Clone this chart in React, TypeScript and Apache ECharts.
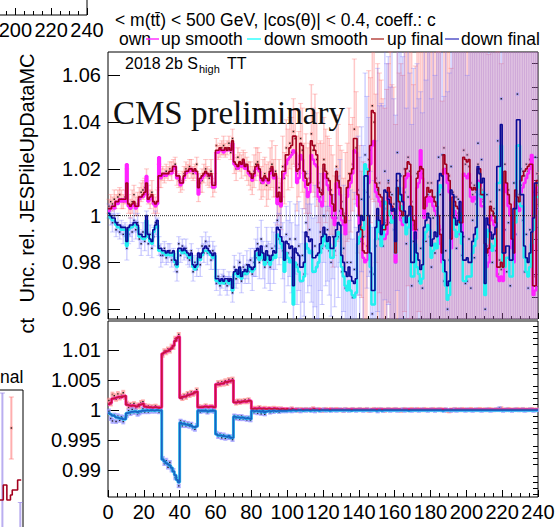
import React, { useEffect, useRef } from "react";
import * as echarts from "echarts";

// ---------- tick positions ----------
const X_LABEL_STEP = 20;
const TOP_MAJOR = [0.96, 0.98, 1, 1.02, 1.04, 1.06];
const TOP_MINOR = [0.965, 0.97, 0.975, 0.985, 0.99, 0.995, 1.005, 1.01, 1.015, 1.025, 1.03, 1.035, 1.045, 1.05, 1.055, 1.065];
const BOT_MAJOR = [0.99, 0.995, 1, 1.005, 1.01];
const BOT_MINOR = [0.986, 0.987, 0.988, 0.989, 0.991, 0.992, 0.993, 0.994, 0.996, 0.997, 0.998, 0.999, 1.001, 1.002, 1.003, 1.004, 1.006, 1.007, 1.008, 1.009, 1.011, 1.012, 1.013, 1.014];

// ---------- top pad: deviations from 1 in per mille, one entry per bin (0..239) ----------
const upFinal = [
  3,3,4,4,6,6,7,7,7,7, 14,5,4,5,6,4,4,8,8,9, 10,14,7,8,9,6,5,6,17,17,
  18,18,18,18,19,19,21,21,17,17, 14,14,17,19,19,20,20,19,20,19, 12,16,17,18,19,18,17,18,13,13,
  28,28,29,28,28,29,28,29,28,32, 23,22,21,23,22,24,21,22,19,18, 16,18,21,22,20,16,15,17,16,15,
  19,21,17,18,8,10,6,19,19,26, 26,29,30,34,34,19,20,31,30,19, 16,13,14,32,30,28,26,12,10,9,
  22,19,16,15,9,5,2,19,15,12, 3,0,-3,12,15,18,20,33,33,9, 0,-6,-15,-16,-16,19,30,45,44,14,
  12,9,8,-6,-6,-4,12,8,4,2, -16,12,6,2,0,17,20,23,22,4, -2,-6,16,19,21,20,3,8,12,10,
  11,8,6,4,0,-8,-16,26,22,18, 15,-10,8,6,4,3,-3,-3,25,24, 23,24,12,11,12,11,20,20,9,9,
  -12,-16,-14,4,2,0,-3,-22,-22,-20, -22,19,14,9,5,-10,-16,11,8,6, 15,17,19,20,21,22,22,-30,-30,15,
];
const upSmooth = [
  2,3,4,3,6,5,7,6,7,6, 22,4,3,4,5,3,4,7,8,8, 9,17,6,7,8,5,4,5,25,16,
  17,18,17,18,18,18,20,21,16,17, 13,14,16,18,19,19,20,19,19,18, 9,15,16,17,18,18,17,17,12,12,
  27,27,28,28,27,28,28,28,28,31, 22,21,20,22,21,23,20,21,18,17, 15,17,20,21,19,15,14,16,15,14,
  18,20,16,17,5,8,4,16,18,22, 24,25,26,28,27,14,16,26,24,15, 12,8,10,26,24,22,21,8,6,4,
  18,16,13,11,4,-1,-4,14,12,9, -2,-4,-8,8,12,14,18,28,27,4, -4,-10,-18,-20,-19,14,22,30,32,10,
  8,6,4,-10,-10,-8,8,5,0,-2, -20,8,3,-2,-4,12,16,18,17,0, -6,-10,12,14,28,16,-1,4,8,6,
  8,4,2,0,-4,-12,-20,20,18,14, 10,-14,4,2,0,-1,-8,-8,18,17, 16,18,8,6,8,7,15,14,4,4,
  -18,-22,-20,0,-2,-4,-8,-26,-28,-26, -28,14,10,4,0,-14,-20,6,4,2, 10,12,14,16,18,20,26,-34,-32,12,
];
const downFinal = [
  1,0,-1,-1,-3,-4,-4,-5,-5,-5, -11,-5,-4,-4,-3,-3,-4,-8,-8,-9, -9,0,-8,-10,-11,-6,-4,-2,-14,-14,
  -15,-15,-16,-15,-16,-16,-15,-19,-21,-14, -14,-15,-14,-15,-16,-17,-16,-21,-22,-21, -16,-18,-16,-14,-13,-14,-15,-16,-17,-16,
  -27,-27,-28,-27,-28,-27,-27,-28,-27,-31, -24,-23,-25,-22,-26,-24,-23,-24,-21,-22, -23,-22,-15,-14,-17,-13,-16,-19,-15,-17,
  -19,-17,-15,-16,-5,-6,-9,-11,-19,-11, -12,-14,-13,-30,-14,-16,-17,-22,-22,-20, -7,-9,-11,-10,-18,-18,-17,-16,-12,-9,
  -5,-8,-11,-9,-14,-14,-9,-6,-3,-4, -17,-20,-24,-26,-22,-26,-28,-29,-27,-7, -4,0,-2,17,17,0,-16,-32,-32,-5,
  3,-2,-8,-4,11,10,7,5,2,3, -11,18,18,9,6,2,-3,0,4,-20, -20,-7,-16,-19,-23,-21,-5,-2,1,-1,
  -13,-10,-7,-9,15,18,17,-19,-24,-30, -28,11,9,-1,-4,-2,6,-7,-19,-19, -18,-20,-20,-11,-8,-5,21,18,14,16,
  -29,-1,-4,-7,-10,-8,-5,21,21,39, -16,-16,-13,-13,-19,-19,3,3,41,41, 9,9,-13,-18,-20,-16,-7,-1,14,14,
];
const downSmooth = [
  0,-1,-2,-2,-4,-5,-5,-6,-6,-6, -13,-6,-5,-5,-4,-4,-5,-9,-9,-10, -10,-2,-9,-11,-12,-7,-5,-4,-15,-15,
  -16,-16,-17,-16,-17,-17,-16,-20,-22,-15, -15,-16,-15,-16,-17,-18,-17,-22,-23,-22, -18,-19,-17,-15,-15,-15,-16,-17,-18,-17,
  -28,-28,-29,-28,-29,-28,-28,-29,-28,-32, -25,-24,-26,-23,-27,-25,-24,-25,-22,-23, -24,-23,-17,-16,-19,-15,-18,-21,-17,-19,
  -21,-19,-17,-18,-8,-9,-12,-14,-24,-16, -18,-20,-19,-38,-20,-22,-24,-28,-28,-26, -12,-14,-16,-15,-24,-24,-22,-20,-16,-13,
  -8,-11,-14,-12,-18,-18,-13,-10,-7,-8, -22,-26,-30,-32,-28,-32,-34,-35,-33,-12, -9,-5,-6,22,20,-4,-22,-38,-38,-10,
  -2,-7,-13,-9,6,5,2,0,-3,-2, -16,12,12,4,1,-3,-8,-5,-1,-26, -26,-12,-22,-25,-29,-27,-10,-7,-4,-6,
  -18,-15,-12,-14,10,13,12,-24,-30,-36, -34,6,4,-6,-9,-7,1,-12,-28,-28, -26,-26,-26,-16,-13,-10,14,12,8,10,
  -34,-6,-9,-12,-15,-13,-10,14,14,30, -22,-22,-18,-18,-26,-26,-3,-3,30,30, 4,4,-18,-24,-26,-22,-12,-6,8,8,
];
const upRaw = [
  4,6,5,7,6,8,9,7,6,8, 14,5,3,6,9,4,5,8,10,11, 12,15,9,7,10,5,4,6,17,16,
  18,17,19,18,20,19,21,22,16,15, 13,15,18,20,19,21,20,18,19,22, 10,14,15,18,20,17,16,19,12,14,
  30,27,28,29,30,28,29,31,27,33, 22,20,25,23,21,24,22,20,18,17, 15,19,22,23,19,14,16,18,13,15,
  20,22,16,19,6,12,4,21,16,29, 24,31,27,36,33,18,22,33,28,17, 18,10,16,35,28,30,24,14,8,11,
  24,17,18,12,11,2,0,21,14,10, 6,-3,1,10,18,16,22,37,29,11, -2,-8,-12,-19,-13,24,28,47,40,16,
  10,14,6,-8,-3,-2,14,10,2,5, -19,15,8,-1,3,20,18,25,19,6, -4,-8,18,17,24,18,5,6,14,8,
  14,6,8,2,-3,-6,-19,29,20,16, 17,-13,10,4,8,1,-5,-1,28,22, 26,21,14,9,13,10,22,18,11,7,
  -15,-13,-17,6,0,3,-5,-25,-19,-23, -18,22,12,11,3,-13,-13,14,6,9, 13,19,17,22,19,24,20,-33,-26,18,
];
const upErr = [
  3,3,3,4,3,3,3,4,3,3, 6,4,4,5,4,4,5,4,4,4, 4,5,4,4,5,4,4,5,5,4,
  3,3,3,3,3,4,3,3,3,3, 3,4,3,3,3,3,4,3,3,3, 4,4,5,4,4,4,4,5,4,4,
  3,3,3,3,4,3,3,3,3,4, 4,5,4,4,5,4,5,5,5,6, 6,7,7,6,8,7,8,7,9,8,
  9,10,8,11,10,12,10,13,11,12, 13,11,15,14,12,16,14,15,18,14, 17,19,15,21,18,22,20,17,24,20,
  18,20,16,21,19,24,17,22,25,20, 22,19,26,21,28,23,20,30,24,27, 32,27,35,30,33,38,31,40,34,36,
  55,47,52,58,49,56,51,60,54,50, 58,62,53,66,57,61,68,55,63,70, 60,72,65,58,74,63,69,77,61,71,
  75,66,80,70,73,84,68,78,86,72, 82,76,90,74,85,79,92,81,88,77, 95,83,89,98,80,93,87,100,84,96,
  90,104,86,98,108,92,101,95,110,88, 103,97,112,94,106,115,99,108,102,118, 96,110,105,120,100,113,117,104,122,109,
];
const downRaw = [
  2,-1,-3,0,-6,-3,-7,-5,-8,-6, -14,-8,-5,-7,-2,-6,-3,-10,-12,-7, -11,-2,-12,-8,-14,-9,-3,-5,-13,-17,
  -17,-14,-18,-16,-15,-19,-17,-21,-24,-12, -17,-13,-16,-14,-18,-19,-15,-24,-20,-23, -18,-21,-13,-16,-11,-16,-13,-19,-15,-18,
  -29,-26,-30,-28,-26,-29,-30,-27,-29,-33, -22,-27,-24,-20,-28,-22,-25,-21,-24,-19, -25,-20,-18,-12,-20,-10,-19,-22,-13,-20,
  -22,-14,-18,-13,-2,-10,-5,-15,-23,-8, -16,-10,-18,-36,-10,-21,-13,-28,-17,-25, -3,-14,-6,-16,-24,-13,-22,-20,-7,-14,
  0,-13,-6,-15,-20,-9,-15,-1,-9,2, -24,-14,-31,-20,-28,-20,-35,-23,-33,0, -11,7,-9,26,10,8,-24,-42,-25,-13,
  11,-10,-1,-13,19,3,15,-3,9,-6, -20,27,10,17,-2,10,-12,8,-5,-30, -11,-16,-6,-28,-14,-31,4,-11,9,-9,
  -22,-1,-16,0,25,9,26,-28,-15,-40, -19,21,0,8,-14,7,-4,-17,-9,-29, -28,-10,-31,-2,-18,5,31,9,24,6,
  -40,9,-14,3,-20,1,-15,32,11,50, -27,-6,-24,-3,-30,-9,14,-8,52,30, 20,-2,-24,-8,-31,-6,-18,10,25,3,
];
const downErr = [
  3,3,4,3,3,4,3,3,4,3, 5,4,4,4,5,4,4,4,5,4, 4,4,5,4,4,4,5,4,4,5,
  3,3,3,4,3,3,3,3,4,3, 3,3,3,4,3,3,3,4,3,3, 4,5,4,4,4,5,4,4,4,5,
  3,3,4,3,3,3,4,3,3,4, 5,4,5,4,5,5,4,6,5,5, 7,6,8,7,7,8,8,9,8,9,
  10,9,11,10,12,11,13,12,14,12, 14,16,15,18,15,17,19,16,20,18, 22,19,24,21,23,26,22,27,25,24,
  20,17,22,19,23,18,24,21,26,22, 24,27,23,29,26,31,25,33,28,34, 36,31,39,35,41,34,43,37,40,45,
  52,57,49,60,55,62,53,58,65,56, 63,59,67,61,70,64,58,72,66,69, 74,62,71,78,67,75,80,69,77,83,
  72,85,76,81,88,74,90,79,86,93, 80,95,84,89,98,86,102,91,96,105, 88,100,107,94,103,110,97,106,112,99,
  115,104,108,118,101,112,120,106,116,124, 109,119,113,126,111,122,128,115,124,130, 118,127,121,132,116,125,134,120,129,136,
];

// ---------- bottom pad: deviations from 1 in per mille ----------
const upEff = [
  1.0,1.2,1.9,2.0,2.1,2.2,2.2,2.1,2.3,2.4, 0.9,0.8,0.7,0.8,0.7,0.6,0.7,0.9,1.0,1.1,
  0.6,0.5,0.5,0.5,0.4,0.5,0.5,0.4,0.4,0.5, 9.4,9.6,9.8,9.9,10.1,10.3,10.7,11.5,12.0,12.2,
  2.0,2.2,2.3,2.3,2.5,2.6,2.7,2.8,3.0,3.1, 0.5,0.5,0.5,0.6,0.6,0.5,0.6,0.6,0.5,0.5,
  4.3,4.3,4.4,4.4,4.5,4.7,4.6,4.8,4.9,5.0, 1.3,1.3,1.4,1.3,1.4,1.5,1.4,1.5,1.6,1.5,
  0.2,0.3,0.2,0.3,0.3,0.2,0.3,0.2,0.2,0.3, 0.2,0.2,0.3,0.2,0.2,0.1,0.2,0.2,0.1,0.2,
  0.1,0.1,0.2,0.1,0.1,0.1,0.0,0.1,0.1,0.1, 0.1,0.1,0.1,0.1,0.2,0.1,0.1,0.1,0.1,0.0,
  0.1,0.1,0.1,0.1,0.1,0.1,0.1,0.1,0.1,0.1, 0.1,0.0,0.1,0.1,0.1,0.1,0.1,0.1,0.1,0.1,
  0.1,0.1,0.1,0.1,0.1,0.0,0.1,0.1,0.1,0.1, 0.1,0.1,0.1,0.1,0.1,0.1,0.1,0.1,0.1,0.1,
  0.1,0.1,0.1,0.0,0.1,0.1,0.1,0.1,0.1,0.1, 0.1,0.1,0.1,0.1,0.1,0.1,0.1,0.1,0.1,0.1,
  0.1,0.1,0.1,0.1,0.1,0.1,0.1,0.1,0.1,0.0, 0.1,0.1,0.0,0.1,0.1,0.1,0.1,0.1,0.1,0.1,
  0.1,0.1,0.1,0.1,0.1,0.1,0.1,0.1,0.1,0.1, 0.1,0.1,0.1,0.1,0.1,0.1,0.1,0.1,0.1,0.1,
  0.1,0.1,0.1,0.1,0.1,0.1,0.1,0.1,0.1,0.1, 0.1,0.1,0.1,0.1,0.1,0.1,0.1,0.1,0.1,0.1,
];
const downEff = [
  -0.5,-0.7,-0.9,-1.0,-1.2,-1.3,-1.4,-1.3,-1.5,-1.5, -0.5,-0.4,-0.3,-0.3,-0.2,-0.3,-0.4,-0.2,-0.1,-0.1,
  -0.1,0.0,-0.1,0.0,0.0,-0.1,0.0,0.0,-0.1,0.0, -8.2,-8.5,-8.8,-9.0,-9.2,-9.6,-10.2,-10.8,-11.6,-12.0,
  -2.1,-2.3,-2.2,-2.4,-2.5,-2.4,-2.6,-2.8,-2.9,-2.7, -0.1,-0.1,-0.1,-0.1,-0.1,-0.2,-0.1,-0.1,-0.1,-0.1,
  -4.0,-4.2,-4.2,-4.3,-4.3,-4.4,-4.5,-4.3,-4.6,-4.6, -1.1,-1.2,-1.2,-1.3,-1.2,-1.3,-1.4,-1.3,-1.4,-1.5,
  -0.1,-0.2,-0.1,-0.2,-0.1,-0.3,-0.1,-0.4,-0.2,-0.1, -0.2,-0.1,-0.1,-0.2,-0.1,-0.1,-0.1,-0.1,-0.1,-0.1,
  0.0,-0.1,0.0,0.0,-0.1,0.0,0.0,0.0,-0.1,0.0, 0.0,0.0,-0.1,0.0,0.0,0.0,0.0,-0.1,0.0,0.0,
  0.0,0.0,0.0,-0.1,0.0,0.0,0.0,0.0,0.0,0.0, 0.0,0.0,0.0,0.0,0.0,-0.1,0.0,0.0,0.0,0.0,
  0.0,0.0,0.0,0.0,0.0,0.0,0.0,0.0,0.0,-0.1, 0.0,0.0,-0.1,0.0,0.0,0.0,0.0,0.0,0.0,0.0,
  0.0,0.0,0.0,0.0,0.0,0.0,0.0,-0.1,0.0,0.0, 0.0,0.0,0.0,0.0,0.0,0.0,0.0,0.0,0.0,0.0,
  0.0,0.0,0.0,0.0,0.0,0.0,-0.1,0.0,0.0,0.0, 0.0,0.0,0.0,0.0,0.0,0.0,0.0,0.0,0.0,0.0,
  0.0,0.0,0.0,0.0,0.0,0.0,0.0,0.0,0.0,0.0, 0.0,0.0,0.0,0.0,0.0,0.0,0.0,0.0,0.0,0.0,
  0.0,0.0,0.0,0.0,0.0,0.0,0.0,0.0,0.0,0.0, 0.0,0.0,0.0,0.0,0.0,0.0,0.0,0.0,0.0,0.0,
];
const upEffRaw = [
  1.6,1.0,2.6,2.4,1.8,2.7,2.0,2.5,2.9,2.1, 1.2,0.5,1.0,0.6,1.1,0.4,0.9,0.6,1.3,1.4,
  0.8,0.3,0.7,0.4,0.6,0.3,0.7,0.2,0.5,0.3, 9.1,9.9,9.6,10.2,9.8,10.6,10.4,11.9,11.7,12.6,
  2.3,1.9,2.5,2.1,2.8,2.4,3.0,2.6,2.8,3.4, 0.7,0.4,0.6,0.4,0.8,0.6,0.4,0.7,0.6,0.4,
  4.1,4.6,4.2,4.7,4.3,4.9,4.4,5.1,4.7,5.2, 1.5,1.1,1.6,1.2,1.6,1.3,1.7,1.3,1.8,1.4,
  0.4,0.1,0.4,0.2,0.5,0.1,0.3,0.4,0.1,0.3, 0.3,0.1,0.4,0.1,0.3,0.0,0.3,0.1,0.2,0.1,
  0.2,0.0,0.3,0.1,0.0,0.2,-0.1,0.2,0.1,0.0, 0.2,0.1,0.0,0.2,0.3,0.1,0.0,0.2,0.1,-0.1,
  0.1,0.2,0.0,0.1,0.2,0.0,0.1,0.2,0.1,0.0, 0.1,-0.1,0.2,0.1,0.0,0.1,0.2,0.1,0.0,0.1,
  0.2,0.1,0.0,0.1,0.2,-0.1,0.1,0.0,0.2,0.1, 0.0,0.2,0.1,0.1,-0.1,0.1,0.2,0.0,0.1,0.1,
  0.2,0.0,0.1,-0.1,0.1,0.2,0.1,0.0,0.1,0.2, 0.1,0.0,0.2,0.1,0.1,0.0,0.2,0.1,0.0,0.1,
  0.1,0.2,0.0,0.1,0.1,0.2,0.0,0.1,0.1,-0.1, -0.2,0.1,0.0,0.2,0.1,0.1,0.0,0.2,0.1,0.1,
  0.0,0.1,0.2,0.1,0.0,0.1,0.1,0.2,0.0,0.1, 0.1,0.0,0.2,0.1,0.1,0.0,0.1,0.2,0.1,0.3,
  0.1,0.0,0.1,0.2,0.1,0.0,0.1,0.1,0.2,0.0, 0.1,0.2,0.1,0.0,0.1,0.1,0.2,0.1,0.0,0.1,
];
const downEffRaw = [
  -0.2,-1.4,-1.8,-0.8,-1.9,-1.0,-1.7,-1.1,-1.9,-1.2, -0.9,-0.1,-0.6,0.1,-0.4,-0.1,-0.7,-0.5,-0.3,0.2,
  -0.3,0.1,-0.3,0.2,-0.2,0.1,-0.2,0.1,-0.3,0.1, -8.0,-8.9,-8.4,-9.5,-8.7,-9.9,-10.0,-11.2,-11.3,-12.6,
  -1.8,-2.6,-2.0,-2.6,-2.2,-2.7,-2.3,-3.0,-3.2,-2.5, 0.1,-0.3,0.0,-0.2,0.1,-0.4,0.0,-0.2,0.1,-0.3,
  -3.8,-4.4,-4.0,-4.6,-4.1,-4.7,-4.3,-4.6,-4.4,-4.9, -0.9,-1.4,-1.0,-1.5,-1.0,-1.5,-1.2,-1.6,-1.2,-1.7,
  0.0,-0.4,0.1,-0.5,0.0,-0.6,0.1,-0.7,-0.1,0.0, -0.4,0.1,-0.3,-0.1,0.0,-0.3,0.1,-0.2,0.0,-0.2,
  -0.1,0.1,-0.2,0.0,-0.1,0.1,0.0,-0.2,0.0,0.1, -0.1,0.0,0.1,-0.1,0.0,-0.2,0.1,0.0,-0.1,0.0,
  0.1,-0.1,0.0,0.0,-0.1,0.1,0.0,-0.1,0.0,0.1, 0.0,-0.1,0.1,0.0,-0.1,0.0,0.1,0.0,-0.1,0.0,
  0.1,0.0,-0.1,0.0,0.1,0.0,-0.1,0.0,0.0,0.1, -0.2,0.0,0.1,-0.1,0.0,0.0,0.1,-0.1,0.0,0.0,
  0.1,-0.1,0.0,0.0,0.1,-0.1,0.0,0.1,0.0,-0.1, 0.0,0.1,0.0,-0.1,0.0,0.1,0.0,0.0,-0.1,0.0,
  0.1,0.0,-0.1,0.0,0.1,0.0,0.0,-0.1,0.1,0.0, 0.0,-0.1,0.0,0.1,-0.1,0.0,0.1,0.0,0.0,-0.1,
  0.1,0.0,0.0,-0.1,0.0,0.1,0.0,0.0,-0.1,0.0, 0.0,0.1,0.0,-0.1,0.0,0.0,0.1,0.0,0.3,0.0,
  -0.1,0.0,0.1,0.0,0.0,-0.1,0.0,0.1,0.0,0.0, 0.0,0.1,-0.1,0.0,0.0,0.1,0.0,-0.1,0.0,0.0,
];
const effErr = [
  0.4,0.3,0.4,0.3,0.3,0.4,0.3,0.3,0.4,0.3, 0.3,0.3,0.3,0.3,0.3,0.3,0.3,0.3,0.3,0.3,
  0.3,0.2,0.3,0.2,0.3,0.2,0.3,0.2,0.3,0.2, 0.3,0.3,0.4,0.3,0.3,0.4,0.3,0.4,0.3,0.3,
  0.3,0.3,0.3,0.3,0.3,0.3,0.3,0.3,0.3,0.3, 0.2,0.2,0.2,0.2,0.2,0.2,0.2,0.2,0.2,0.2,
  0.3,0.3,0.3,0.3,0.3,0.3,0.3,0.3,0.3,0.3, 0.2,0.2,0.2,0.2,0.2,0.2,0.2,0.2,0.2,0.2,
  0.2,0.2,0.2,0.2,0.2,0.2,0.2,0.2,0.2,0.2, 0.2,0.2,0.2,0.2,0.2,0.2,0.2,0.2,0.2,0.2,
  0.2,0.2,0.2,0.2,0.2,0.2,0.2,0.2,0.2,0.2, 0.2,0.2,0.2,0.2,0.2,0.2,0.2,0.2,0.2,0.2,
  0.2,0.2,0.2,0.2,0.2,0.2,0.2,0.2,0.2,0.2, 0.2,0.2,0.2,0.2,0.2,0.2,0.2,0.2,0.2,0.2,
  0.2,0.2,0.2,0.2,0.2,0.2,0.2,0.2,0.2,0.2, 0.2,0.2,0.2,0.2,0.2,0.2,0.2,0.2,0.2,0.2,
  0.2,0.2,0.2,0.2,0.2,0.2,0.2,0.2,0.2,0.2, 0.2,0.2,0.2,0.2,0.2,0.2,0.2,0.2,0.2,0.2,
  0.2,0.2,0.2,0.2,0.2,0.2,0.2,0.2,0.2,0.2, 0.2,0.2,0.2,0.2,0.2,0.2,0.2,0.2,0.2,0.2,
  0.2,0.2,0.2,0.2,0.2,0.2,0.2,0.2,0.2,0.2, 0.2,0.2,0.2,0.2,0.2,0.2,0.2,0.2,0.2,0.2,
  0.2,0.2,0.2,0.2,0.2,0.2,0.2,0.2,0.2,0.2, 0.2,0.2,0.2,0.2,0.2,0.2,0.2,0.2,0.2,0.2,
];

// ---------- neighbouring (cropped) panel on the lower left ----------
const remnantStart = 226;
const remnantUpFinal = [1.016, 1.016, 1.016, 1.022, 1.022, 1.016, 1.016, 1.018, 1.02, 1.02, 1.02, 1.024, 1.024, 1.024];
const remnantUpPts = [[233, 1.0448, 0.0124]];
const remnantDownPts = [[228, 1.0, 0.0588], [238, 0.985, 0.03]];

// ---------- helpers ----------
const pm = (d: number) => 1 + d / 1000;
const stepData = (arr: number[]) => {
  const out: number[][] = arr.map((d, i) => [i, pm(d)]);
  out.push([arr.length, pm(arr[arr.length - 1])]);
  return out;
};
const pointData = (vals: number[], errs: number[]) => vals.map((d, i) => [i + 0.5, pm(d), errs[i] / 1000]);

function errRender(bar: string, mark: string, cap: number, box: number, barW: number) {
  return (params: any, api: any) => {
    const x = api.value(0), v = api.value(1), e = api.value(2);
    const c = api.coord([x, v]);
    const t = api.coord([x, v + e]);
    const b = api.coord([x, v - e]);
    const cs = params.coordSys;
    const top = cs.y, bot = cs.y + cs.height;
    const cl = (y: number) => Math.max(top, Math.min(bot, y));
    const y1 = cl(t[1]), y2 = cl(b[1]);
    const ch: any[] = [];
    if (y2 > y1) ch.push({ type: "line", shape: { x1: c[0], y1, x2: c[0], y2 }, style: { stroke: bar, lineWidth: barW } });
    if (t[1] >= top && t[1] <= bot) ch.push({ type: "line", shape: { x1: c[0] - cap, y1: t[1], x2: c[0] + cap, y2: t[1] }, style: { stroke: bar, lineWidth: 1 } });
    if (b[1] >= top && b[1] <= bot) ch.push({ type: "line", shape: { x1: c[0] - cap, y1: b[1], x2: c[0] + cap, y2: b[1] }, style: { stroke: bar, lineWidth: 1 } });
    if (c[1] >= top && c[1] <= bot) {
      ch.push({ type: "rect", shape: { x: c[0] - box / 2, y: c[1] - box / 2, width: box, height: box }, style: { fill: mark } });
      ch.push({ type: "rect", shape: { x: c[0] - 0.7, y: c[1] - 0.7, width: 1.4, height: 1.4 }, style: { fill: "#222" } });
    }
    return { type: "group", children: ch };
  };
}

const FONT = "Liberation Sans";
const fmt = (v: number) => String(+Number(v).toFixed(4));

export default function App() {
  const ref = useRef<HTMLDivElement>(null);
  useEffect(() => {
    if (!ref.current) return;
    const chart = echarts.init(ref.current, undefined, { renderer: "svg" });

    const line = (name: string, data: any, color: string, w: number, xi: number, yi: number, z = 3, opacity = 1) => ({
      name, type: "line", step: "end", data, xAxisIndex: xi, yAxisIndex: yi, showSymbol: false, symbol: "none",
      lineStyle: { color, width: w, opacity }, z, silent: true, animation: false,
    });
    const pts = (data: any, r: any, xi: number, yi: number, z = 2) => ({
      type: "custom", renderItem: r, data, xAxisIndex: xi, yAxisIndex: yi, z, silent: true, animation: false,
    });

    const xTickAxis = (grid: number, labels: boolean, major: number, minor: number) => ({
      type: "value", gridIndex: grid, min: 0, max: 240, interval: X_LABEL_STEP,
      axisLine: { show: false },
      axisTick: { show: true, inside: true, length: major, lineStyle: { color: "#000", width: 1 } },
      minorTick: { show: true, splitNumber: 4, length: minor, lineStyle: { color: "#000", width: 1 } },
      splitLine: { show: false },
      axisLabel: { show: labels, fontSize: 20, fontFamily: FONT, color: "#000", margin: 5, showMinLabel: true, showMaxLabel: true },
    });
    const yMajor = (grid: number, min: number, max: number, ticks: number[], len: number) => ({
      type: "value", gridIndex: grid, min, max,
      axisLine: { show: false }, splitLine: { show: false },
      axisTick: { show: true, inside: true, length: len, customValues: ticks, lineStyle: { color: "#000" } },
      axisLabel: { show: true, customValues: ticks, formatter: fmt, fontSize: 20, fontFamily: FONT, color: "#000", margin: 7 },
    });
    const yMinor = (grid: number, min: number, max: number, ticks: number[], len: number) => ({
      type: "value", gridIndex: grid, min, max,
      axisLine: { show: false }, splitLine: { show: false },
      axisTick: { show: true, inside: true, length: len, customValues: ticks, lineStyle: { color: "#000" } },
      axisLabel: { show: false },
    });

    const UP_BAR = "rgba(255,110,110,0.38)";
    const DN_BAR = "rgba(110,110,255,0.32)";

    const option: any = {
      animation: false,
      backgroundColor: "#fff",
      textStyle: { fontFamily: FONT },
      grid: [
        { left: 108, top: 52, width: 430, height: 267, show: true, borderColor: "#000", borderWidth: 1, backgroundColor: "transparent", outerBoundsMode: "none", containLabel: false },
        { left: 108, top: 321, width: 430, height: 176, show: true, borderColor: "#000", borderWidth: 1, backgroundColor: "transparent", outerBoundsMode: "none", containLabel: false },
        { right: 471, bottom: 512, width: 430, height: 215, show: true, borderColor: "#000", borderWidth: 1, outerBoundsMode: "none", containLabel: false },
        { right: 535, top: 390, width: 430, height: 300, show: true, borderColor: "#000", borderWidth: 1, outerBoundsMode: "none", containLabel: false },
      ],
      xAxis: [
        xTickAxis(0, false, 6, 3),
        xTickAxis(1, true, 7, 4),
        xTickAxis(2, true, 7, 4),
        { ...xTickAxis(3, false, 7, 4), axisTick: { show: false }, minorTick: { show: false } },
      ],
      yAxis: [
        yMajor(0, 0.9558, 1.07, TOP_MAJOR, 12),
        yMinor(0, 0.9558, 1.07, TOP_MINOR, 6),
        yMajor(1, 0.98555, 1.01483, BOT_MAJOR, 11),
        yMinor(1, 0.98555, 1.01483, BOT_MINOR, 5),
        { type: "value", gridIndex: 2, min: 0, max: 1, show: false },
        { type: "value", gridIndex: 3, min: 0.94, max: 1.06, show: false },
      ],
      series: [
        // top pad
        pts(pointData(upRaw, upErr), errRender(UP_BAR, "rgba(255,150,150,0.7)", 2.5, 3, 1.5), 0, 0, 1),
        pts(pointData(downRaw, downErr), errRender(DN_BAR, "rgba(150,150,255,0.7)", 2.5, 3, 1.5), 0, 0, 1),
        line("up smooth", stepData(upSmooth), "#ff22ff", 2.4, 0, 0, 3),
        line("down smooth", stepData(downSmooth), "#22f0f0", 2.4, 0, 0, 3),
        line("up final", stepData(upFinal), "#a3001e", 1.6, 0, 0, 4),
        line("down final", stepData(downFinal), "#0b0b96", 1.6, 0, 0, 4),
        { type: "line", data: [[0, 1], [240, 1]], xAxisIndex: 0, yAxisIndex: 0, showSymbol: false, symbol: "none", lineStyle: { color: "#222", width: 1, type: "dotted" }, z: 5, silent: true },
        // bottom pad
        pts(pointData(upEffRaw, effErr), errRender("rgba(255,120,120,0.45)", "rgba(255,160,160,0.75)", 2, 4, 2), 1, 2, 1),
        pts(pointData(downEffRaw, effErr), errRender("rgba(120,120,255,0.45)", "rgba(160,160,255,0.75)", 2, 4, 2), 1, 2, 1),
        line("up smooth eff", stepData(upEff), "#ff30c0", 3, 1, 2, 3),
        line("down smooth eff", stepData(downEff), "#30c8f0", 3, 1, 2, 3),
        line("up final eff", stepData(upEff), "#c8143c", 1.8, 1, 2, 4),
        line("down final eff", stepData(downEff), "#1c62c4", 1.8, 1, 2, 4),
        // neighbouring cropped panel
        {
          type: "line", step: "end", xAxisIndex: 3, yAxisIndex: 5, showSymbol: false, symbol: "none", silent: true,
          data: remnantUpFinal.map((v, i) => [remnantStart + i, v]), lineStyle: { color: "#a3001e", width: 1.6 }, z: 4,
        },
        pts(remnantUpPts.map((p) => [p[0] + 0.5, p[1], p[2]]), errRender("rgba(255,120,120,0.6)", "rgba(255,150,150,0.7)", 2.5, 3, 2), 3, 5, 2),
        pts(remnantDownPts.map((p) => [p[0] + 0.5, p[1], p[2]]), errRender("rgba(140,120,230,0.6)", "rgba(150,150,255,0.7)", 2.5, 3, 2), 3, 5, 2),
      ],
      graphic: [
        // title and legend
        { type: "text", x: 115, y: 20, z: 50, style: { text: "< m(tt\u0304) < 500 GeV, |cos(θ)| < 0.4, coeff.: c", fontSize: 17.5, fontFamily: FONT, fill: "#000", verticalAlign: "middle" } },
        { type: "text", x: 119, y: 39, z: 50, style: { text: "own", fontSize: 17.5, fontFamily: FONT, fill: "#000", verticalAlign: "middle" } },
        { type: "line", z: 50, shape: { x1: 146, y1: 39, x2: 159, y2: 39 }, style: { stroke: "#ff33ff", lineWidth: 1.5 } },
        { type: "text", x: 161, y: 39, z: 50, style: { text: "up smooth", fontSize: 17.5, fontFamily: FONT, fill: "#000", verticalAlign: "middle" } },
        { type: "line", z: 50, shape: { x1: 247, y1: 39, x2: 261, y2: 39 }, style: { stroke: "#33ffff", lineWidth: 1.5 } },
        { type: "text", x: 264, y: 39, z: 50, style: { text: "down smooth", fontSize: 17.5, fontFamily: FONT, fill: "#000", verticalAlign: "middle" } },
        { type: "line", z: 50, shape: { x1: 371, y1: 39, x2: 384, y2: 39 }, style: { stroke: "#b84a45", lineWidth: 1.5 } },
        { type: "text", x: 387, y: 39, z: 50, style: { text: "up final", fontSize: 17.5, fontFamily: FONT, fill: "#000", verticalAlign: "middle" } },
        { type: "line", z: 50, shape: { x1: 445, y1: 39, x2: 459, y2: 39 }, style: { stroke: "#5555c8", lineWidth: 1.5 } },
        { type: "text", x: 461, y: 39, z: 50, style: { text: "down final", fontSize: 17.5, fontFamily: FONT, fill: "#000", verticalAlign: "middle" } },
        // labels inside the top pad
        { type: "text", x: 125, y: 63, z: 50, style: { text: "2018 2b S", fontSize: 16, fontFamily: FONT, fill: "#000", verticalAlign: "middle" } },
        { type: "text", x: 199, y: 69, z: 50, style: { text: "high", fontSize: 11, fontFamily: FONT, fill: "#000", verticalAlign: "middle" } },
        { type: "text", x: 227, y: 63, z: 50, style: { text: "TT", fontSize: 16, fontFamily: FONT, fill: "#000", verticalAlign: "middle" } },
        { type: "text", x: 113, y: 113, z: 50, style: { text: "CMS preliminary", fontSize: 33, fontFamily: "Liberation Serif", fill: "#111", verticalAlign: "middle" } },
        // axis titles
        { type: "text", x: 27, y: 178, rotation: Math.PI / 2, z: 50, style: { text: "Unc. rel. JESPileUpDataMC", fontSize: 20, fontFamily: FONT, fill: "#000", align: "center", verticalAlign: "middle" } },
        { type: "text", x: 27, y: 318, rotation: Math.PI / 2, z: 50, style: { text: "ct", fontSize: 20, fontFamily: FONT, fill: "#000", align: "right", verticalAlign: "middle" } },
        // neighbouring panel legend fragment
        { type: "text", x: 0, y: 377, z: 50, style: { text: "nal", fontSize: 17.5, fontFamily: FONT, fill: "#000", verticalAlign: "middle" } },
      ],
    };
    chart.setOption(option);
    return () => chart.dispose();
  }, []);
  return <div ref={ref} style={{ position: "absolute", left: 0, top: 0, width: 558, height: 527, background: "#fff" }} />;
}
